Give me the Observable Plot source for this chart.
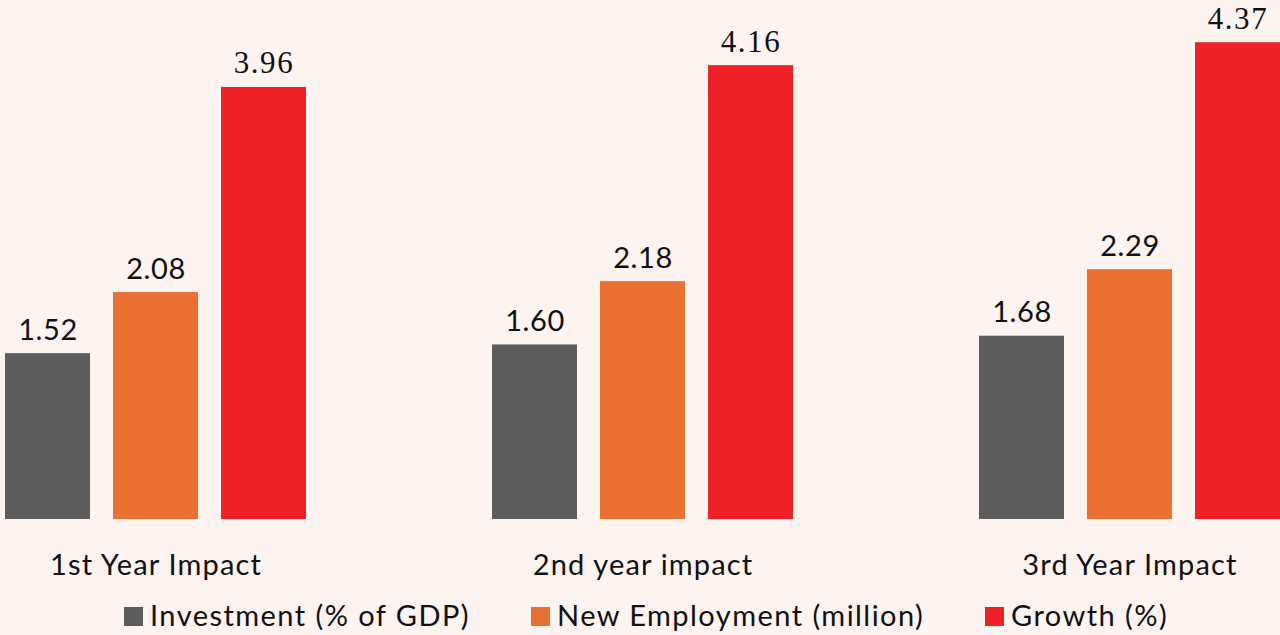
<!DOCTYPE html>
<html><head><meta charset="utf-8">
<script src="https://cdn.jsdelivr.net/npm/d3@7"></script>
<script src="https://cdn.jsdelivr.net/npm/@observablehq/plot@0.6"></script>
<style>
body{margin:0;background:#fdf3f0;overflow:hidden}
#chart svg, #legend svg{display:block}
.vals text{letter-spacing:0.6px}
.serifvals text{letter-spacing:1.6px}
.grp text{letter-spacing:1.15px}
</style></head><body><div id="chart"></div><div id="legend"></div>
<script>
const groups = ["1st Year Impact", "2nd year impact", "3rd Year Impact"];
const series = ["Investment (% of GDP)", "New Employment (million)", "Growth (%)"];
const investment = [1.52, 1.60, 1.68];
const employment = [2.08, 2.18, 2.29];
const growth = [3.96, 4.16, 4.37];
const colors = ["#5b5c5b", "#e87133", "#ee2226"];

const valuesBySeries = [investment, employment, growth];
const data = [];
groups.forEach((g, i) => {
  series.forEach((s, j) => data.push({group: g, series: s, value: valuesBySeries[j][i]}));
});
const fmt = d3.format(".2f");

const chart = Plot.plot({
  width: 1280,
  height: 590,
  marginLeft: 4,
  marginRight: 0,
  marginTop: 0,
  marginBottom: 71,
  style: {background: "transparent", overflow: "visible"},
  fx: {domain: groups, paddingInner: 0.3826, paddingOuter: 0, axis: null},
  x: {domain: series, paddingInner: 0.215, paddingOuter: 0, axis: null},
  y: {domain: [0, 4.757], axis: null},
  color: {domain: series, range: colors},
  marks: [
    Plot.barY(data, {fx: "group", x: "series", y: "value", fill: "series"}),
    Plot.text(data.filter(d => d.series !== series[2]), {
      fx: "group", x: "series", y: "value", text: d => fmt(d.value),
      lineAnchor: "bottom", dy: -14, fontSize: 29, fontFamily: "Lato", fill: "#111",
      className: "vals"
    }),
    Plot.text(data.filter(d => d.series === series[2]), {
      fx: "group", x: "series", y: "value", text: d => fmt(d.value),
      lineAnchor: "bottom", dy: -14, fontSize: 31, fontFamily: "Liberation Serif", fill: "#111",
      className: "serifvals"
    }),
    Plot.text(groups, {
      fx: d => d, text: d => d, frameAnchor: "bottom", lineAnchor: "bottom",
      dy: 55, fontSize: 29, fontFamily: "Lato", fill: "#111", className: "grp"
    })
  ]
});
document.getElementById("chart").appendChild(chart);

// legend below the chart
const legendX = [124, 531, 985];
const lsvg = d3.select("#legend").append("svg").attr("width", 1280).attr("height", 45);
series.forEach((s, i) => {
  lsvg.append("rect").attr("x", legendX[i]).attr("y", 17).attr("width", 19).attr("height", 19).attr("fill", colors[i]);
  lsvg.append("text").attr("x", legendX[i] + 26).attr("y", 36)
    .attr("font-family", "Lato").attr("font-size", 29).attr("letter-spacing", 1.45)
    .attr("fill", "#111").text(s);
});
</script>
</body></html>
